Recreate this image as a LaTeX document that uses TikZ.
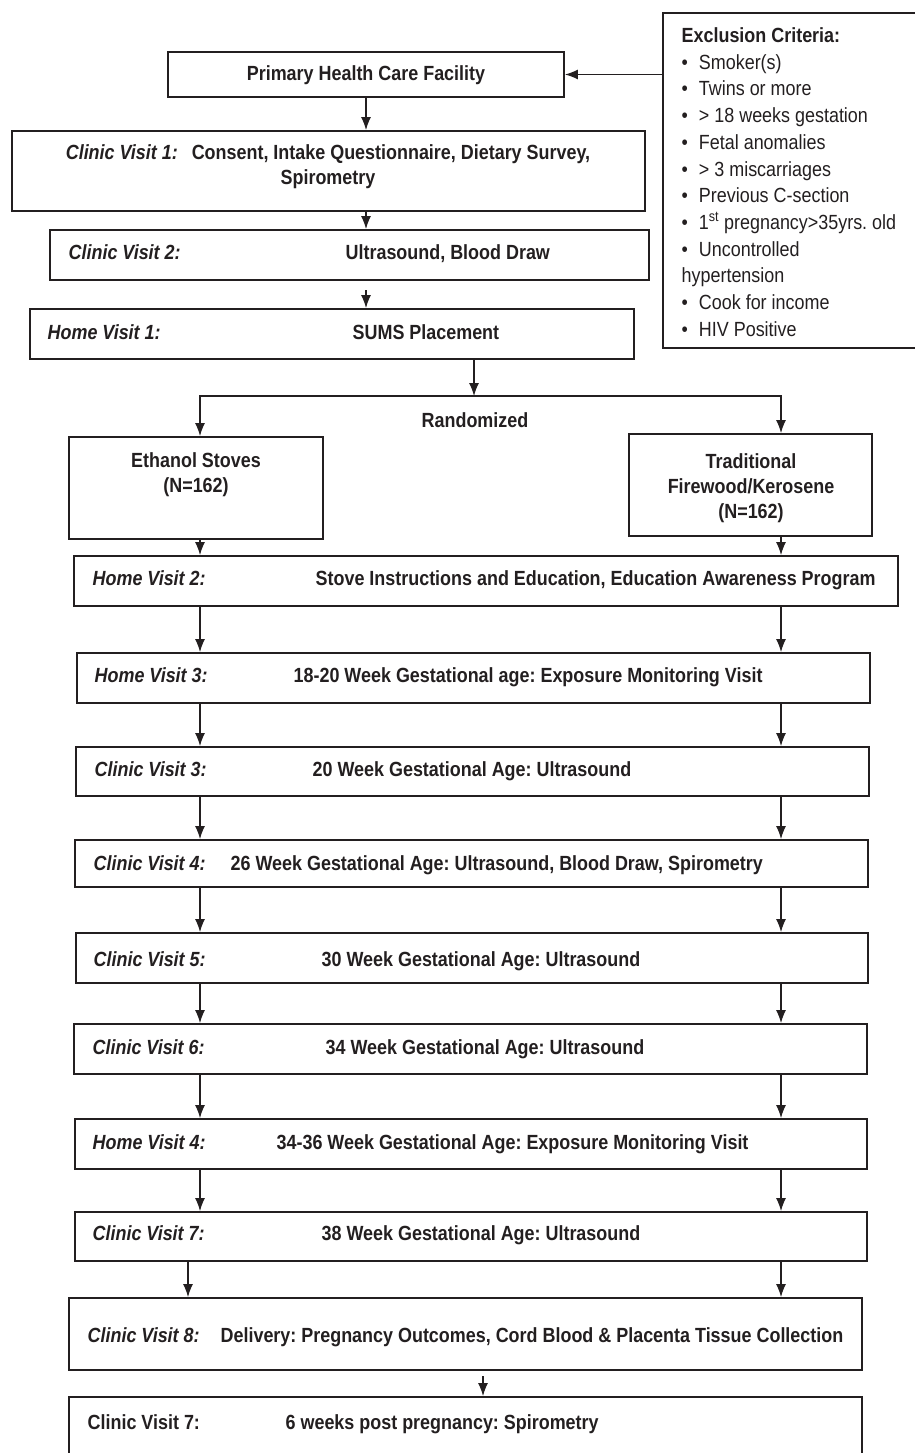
\documentclass[tikz,border=0pt]{standalone}
\usepackage{fontspec}
\setmainfont{Liberation Sans}[FakeStretch=0.875]
\usetikzlibrary{arrows.meta,fit}
\definecolor{ink}{RGB}{35,31,32}
\newcommand{\flowsize}{\fontsize{20.5pt}{25pt}\selectfont}
\newcommand{\critsize}{\fontsize{20.5pt}{26.7pt}\selectfont}
\frenchspacing

\begin{document}
\begin{tikzpicture}[x=1pt, y=-1pt, line width=1.3pt,
  stage/.style={draw=ink, line width=1.8pt, inner sep=0pt},
  visit/.style={font=\flowsize\bfseries\itshape, text=ink, anchor=base west, inner sep=0pt},
  task/.style={font=\flowsize\bfseries, text=ink, anchor=base west, inner sep=0pt},
  flow/.style={draw=ink, line width=1.3pt, -{Latex[length=13pt,width=10pt]}}]
  \useasboundingbox (0,0) rectangle (914,1453);
  % boxes
  \node[stage, fit={(663,13) (922,348)}] (excl) {};
  \node[stage, fit={(168,52) (564,97)}] (phc) {};
  \node[stage, fit={(12,131) (645,211)}] (cv1) {};
  \node[stage, fit={(50,230) (649,280)}] (cv2) {};
  \node[stage, fit={(30,309) (634,359)}] (hv1) {};
  \node[stage, fit={(69,437) (323,539)}] (eth) {};
  \node[stage, fit={(629,434) (872,536)}] (trad) {};
  \node[stage, fit={(74,556) (898,606)}] (hv2) {};
  \node[stage, fit={(77,653) (870,703)}] (hv3) {};
  \node[stage, fit={(76,747) (869,796)}] (cv3) {};
  \node[stage, fit={(75,840) (868,887)}] (cv4) {};
  \node[stage, fit={(76,933) (868,983)}] (cv5) {};
  \node[stage, fit={(74,1024) (867,1074)}] (cv6) {};
  \node[stage, fit={(75,1119) (867,1169)}] (hv4) {};
  \node[stage, fit={(75,1212) (867,1261)}] (cv7) {};
  \node[stage, fit={(69,1298) (862,1370)}] (cv8) {};
  \node[stage, fit={(69,1397) (862,1465)}] (cv9) {};

  % exclusion list
  \node[font=\critsize, text=ink, align=left, anchor=north west, inner sep=0pt] (excl-txt) at (681,27)
    {\textbf{Exclusion Criteria:}\\
     \textbullet\hspace{11pt}Smoker(s)\\
     \textbullet\hspace{11pt}Twins or more\\
     \textbullet\hspace{11pt}> 18 weeks gestation\\
     \textbullet\hspace{11pt}Fetal anomalies\\
     \textbullet\hspace{11pt}> 3 miscarriages\\
     \textbullet\hspace{11pt}Previous C-section\\
     \textbullet\hspace{11pt}1\textsuperscript{st} pregnancy>35yrs. old\\
     \textbullet\hspace{11pt}Uncontrolled\\
     hypertension\\
     \textbullet\hspace{11pt}Cook for income\\
     \textbullet\hspace{11pt}HIV Positive};

  % texts
  \node[task, anchor=base] (phc-txt) at (366,81) {Primary Health Care Facility};
  \node[font=\flowsize\bfseries, text=ink, align=center, inner sep=0pt] (cv1-txt) at (328,167)
    {\textit{Clinic Visit 1:}\hspace{14pt}Consent, Intake Questionnaire, Dietary Survey,\\ Spirometry};
  \node[visit] (cv2-lbl) at (68,259) {Clinic Visit 2:};
  \node[task] (cv2-txt) at (345,259) {Ultrasound, Blood Draw};
  \node[visit] (hv1-lbl) at (47,339) {Home Visit 1:};
  \node[task] (hv1-txt) at (352,339) {SUMS Placement};
  \node[task, anchor=base] (rand-txt) at (475,427) {Randomized};
  \node[font=\flowsize\bfseries, text=ink, align=center, inner sep=0pt] (eth-txt) at (196,475)
    {Ethanol Stoves\\ (N=162)};
  \node[font=\flowsize\bfseries, text=ink, align=center, inner sep=0pt] (trad-txt) at (751,488)
    {Traditional\\ Firewood/Kerosene\\ (N=162)};
  \node[visit] (hv2-lbl) at (92,585) {Home Visit 2:};
  \node[task] (hv2-txt) at (315,585) {Stove Instructions and Education, Education Awareness Program};
  \node[visit] (hv3-lbl) at (94,682) {Home Visit 3:};
  \node[task] (hv3-txt) at (293,682) {18-20 Week Gestational age: Exposure Monitoring Visit};
  \node[visit] (cv3-lbl) at (94,776) {Clinic Visit 3:};
  \node[task] (cv3-txt) at (312,776) {20 Week Gestational Age: Ultrasound};
  \node[visit] (cv4-lbl) at (93,870) {Clinic Visit 4:};
  \node[task] (cv4-txt) at (230,870) {26 Week Gestational Age: Ultrasound, Blood Draw, Spirometry};
  \node[visit] (cv5-lbl) at (93,966) {Clinic Visit 5:};
  \node[task] (cv5-txt) at (321,966) {30 Week Gestational Age: Ultrasound};
  \node[visit] (cv6-lbl) at (92,1054) {Clinic Visit 6:};
  \node[task] (cv6-txt) at (325,1054) {34 Week Gestational Age: Ultrasound};
  \node[visit] (hv4-lbl) at (92,1149) {Home Visit 4:};
  \node[task] (hv4-txt) at (276,1149) {34-36 Week Gestational Age: Exposure Monitoring Visit};
  \node[visit] (cv7-lbl) at (92,1240) {Clinic Visit 7:};
  \node[task] (cv7-txt) at (321,1240) {38 Week Gestational Age: Ultrasound};
  \node[visit] (cv8-lbl) at (87,1342) {Clinic Visit 8:};
  \node[task] (cv8-txt) at (220,1342) {Delivery: Pregnancy Outcomes, Cord Blood \& Placenta Tissue Collection};
  \node[task] (cv9-lbl) at (87,1429) {Clinic Visit 7:};
  \node[task] (cv9-txt) at (285,1429) {6 weeks post pregnancy: Spirometry};

  % arrows, top part
  \draw[flow] (phc.east -| excl.west) -- (phc.east);
  \draw[flow] (phc.south) -- (phc.south |- cv1.north);
  \draw[flow] (phc.south |- cv1.south) -- (phc.south |- cv2.north);
  \coordinate (gap2) at (366,290);
  \draw[flow] (gap2) -- (gap2 |- hv1.north);
  \coordinate (split) at (474,396);
  \coordinate (colL) at (200,396);
  \coordinate (colR) at (781,396);
  \draw[flow] (split |- hv1.south) -- (split);
  \draw[flow] (split) -- (colL) -- (colL |- eth.north);
  \draw[flow] (split) -- (colR) -- (colR |- trad.north);
  % arrows, two columns
  \draw[flow] (colL |- eth.south) -- (colL |- hv2.north);
  \draw[flow] (colR |- trad.south) -- (colR |- hv2.north);
  \draw[flow] (colL |- hv2.south) -- (colL |- hv3.north);
  \draw[flow] (colR |- hv2.south) -- (colR |- hv3.north);
  \draw[flow] (colL |- hv3.south) -- (colL |- cv3.north);
  \draw[flow] (colR |- hv3.south) -- (colR |- cv3.north);
  \draw[flow] (colL |- cv3.south) -- (colL |- cv4.north);
  \draw[flow] (colR |- cv3.south) -- (colR |- cv4.north);
  \draw[flow] (colL |- cv4.south) -- (colL |- cv5.north);
  \draw[flow] (colR |- cv4.south) -- (colR |- cv5.north);
  \draw[flow] (colL |- cv5.south) -- (colL |- cv6.north);
  \draw[flow] (colR |- cv5.south) -- (colR |- cv6.north);
  \draw[flow] (colL |- cv6.south) -- (colL |- hv4.north);
  \draw[flow] (colR |- cv6.south) -- (colR |- hv4.north);
  \draw[flow] (colL |- hv4.south) -- (colL |- cv7.north);
  \draw[flow] (colR |- hv4.south) -- (colR |- cv7.north);
  \coordinate (col8) at (188,396);
  \draw[flow] (col8 |- cv7.south) -- (col8 |- cv8.north);
  \draw[flow] (colR |- cv7.south) -- (colR |- cv8.north);
  \coordinate (gap8) at (483,1376);
  \draw[flow] (gap8) -- (gap8 |- cv9.north);
\end{tikzpicture}
\end{document}
